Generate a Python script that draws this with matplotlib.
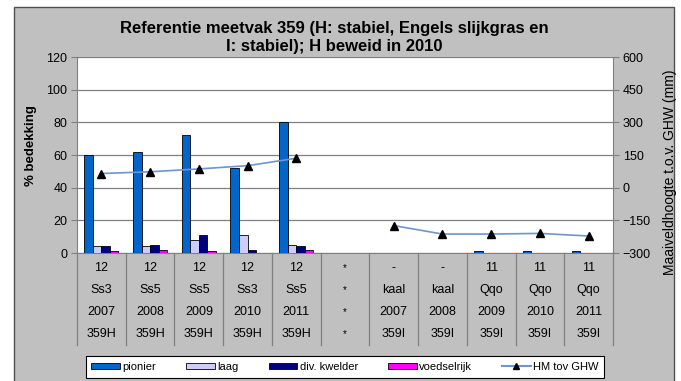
import matplotlib
matplotlib.use("Agg")
import matplotlib.pyplot as plt
import numpy as np
from matplotlib.patches import Rectangle, Patch
from matplotlib.lines import Line2D

plt.rcParams['font.family'] = ['Liberation Sans', 'DejaVu Sans']

# Category table rows (top to bottom)
row_code = ["12", "12", "12", "12", "12", "*", "-", "-", "11", "11", "11"]
row_type = ["Ss3", "Ss5", "Ss5", "Ss3", "Ss5", "*", "kaal", "kaal", "Qqo", "Qqo", "Qqo"]
row_year = ["2007", "2008", "2009", "2010", "2011", "*", "2007", "2008", "2009", "2010", "2011"]
row_plot = ["359H", "359H", "359H", "359H", "359H", "*", "359I", "359I", "359I", "359I", "359I"]

# Cover (%) per vegetation class
pionier = [60, 62, 72, 52, 80, 0, 0, 0, 1, 1, 1]
laag = [4, 4, 8, 11, 5, 0, 0, 0, 0, 0, 0]
div_kwelder = [4, 5, 11, 2, 4, 0, 0, 0, 0, 0, 0]
voedselrijk = [1, 2, 1, 0, 2, 0, 0, 0, 0, 0, 0]

# Surface height relative to mean high water (mm)
hm_ghw = [65, 73, 86, 101, 135, np.nan, -174, -213, -213, -210, -222]

series = [
    ("pionier", pionier, "#0066cc"),
    ("laag", laag, "#ccccff"),
    ("div. kwelder", div_kwelder, "#000080"),
    ("voedselrijk", voedselrijk, "#ff00ff"),
]

W, H = 681, 381
fig = plt.figure(figsize=(W / 100, H / 100), dpi=100, facecolor="white")

# grey chart frame
fig.patches.append(Rectangle((14 / W, -0.01), (674 - 14) / W, (381 - 7) / H + 0.01,
                             transform=fig.transFigure, facecolor="#c0c0c0",
                             edgecolor="#505050", linewidth=1.0, zorder=-10))

ax = fig.add_axes([77 / W, 1 - 253 / H, (613 - 77) / W, (253 - 57) / H])
ax.set_facecolor("white")

n = len(row_code)
x = np.arange(n)
bw = 0.175
for i, (name, vals, col) in enumerate(series):
    ax.bar(x + (i - 1.5) * bw, vals, width=bw, color=col, edgecolor="black",
           linewidth=0.6, label=name, zorder=3)

ax.set_xlim(-0.5, n - 0.5)
ax.set_ylim(0, 120)
ax.set_yticks(range(0, 121, 20))
ax.yaxis.grid(True, color="#808080", linewidth=0.9, zorder=1)
ax.set_axisbelow(True)
ax.set_xticks([])
for s in ["top", "right"]:
    ax.spines[s].set_visible(False)
ax.spines["left"].set_color("#808080")
ax.spines["bottom"].set_color("#808080")
ax.tick_params(axis="y", labelsize=9, length=4, color="#808080", pad=3)
ax.set_ylabel("% bedekking", fontsize=9.5, fontweight="bold", labelpad=8)
ax.yaxis.set_label_coords(-0.074, 0.55)

ax2 = ax.twinx()
ax2.set_ylim(-300, 600)
ax2.set_yticks(range(-300, 601, 150))
ax2.plot(x, hm_ghw, color="#6e95d0", linewidth=1.2, marker="^", markersize=6,
         markerfacecolor="black", markeredgecolor="black", zorder=4)
for s in ["top", "left", "bottom"]:
    ax2.spines[s].set_visible(False)
ax2.spines["right"].set_color("#808080")
ax2.tick_params(axis="y", labelsize=9, length=4, color="#808080", pad=3)
ax2.set_ylabel("Maaiveldhoogte t.o.v. GHW (mm)", fontsize=10, labelpad=6)
ax2.yaxis.set_label_coords(1.093, 0.413)

# category table below the axis
trans = ax.get_xaxis_transform()
row_y = [-0.077, -0.19, -0.302, -0.414]
for rows, yy in zip([row_code, row_type, row_year, row_plot], row_y):
    for xi, lab in zip(x, rows):
        ax.text(xi, yy, lab, transform=trans, ha="center", va="center",
                fontsize=9 if lab != "*" else 7, clip_on=False)
for b in np.arange(-0.5, n, 1.0):
    ax.plot([b, b], [0, -0.47], transform=trans, color="#808080",
            linewidth=0.9, clip_on=False)

fig.text(334 / W, 1 - 28 / H, "Referentie meetvak 359 (H: stabiel, Engels slijkgras en",
         ha="center", va="center", fontsize=12, fontweight="bold")
fig.text(334 / W, 1 - 46 / H, "I: stabiel); H beweid in 2010",
         ha="center", va="center", fontsize=12, fontweight="bold")

handles = [Patch(facecolor=c, edgecolor="black", linewidth=0.6, label=nm)
           for nm, _, c in series]
handles.append(Line2D([0], [0], color="#6e95d0", marker="^", markersize=4,
                      markerfacecolor="black", markeredgecolor="black",
                      label="HM tov GHW"))
leg = fig.legend(handles=handles, loc="center", bbox_to_anchor=(345 / W, 1 - 367 / H),
                 ncol=5, fontsize=8, frameon=True, fancybox=False,
                 edgecolor="black", framealpha=1, handlelength=2.6,
                 handleheight=0.5, handletextpad=0.2, columnspacing=2.7,
                 borderpad=0.5)
leg.get_frame().set_linewidth(0.8)

fig.savefig("out.png", dpi=100, facecolor=fig.get_facecolor())
